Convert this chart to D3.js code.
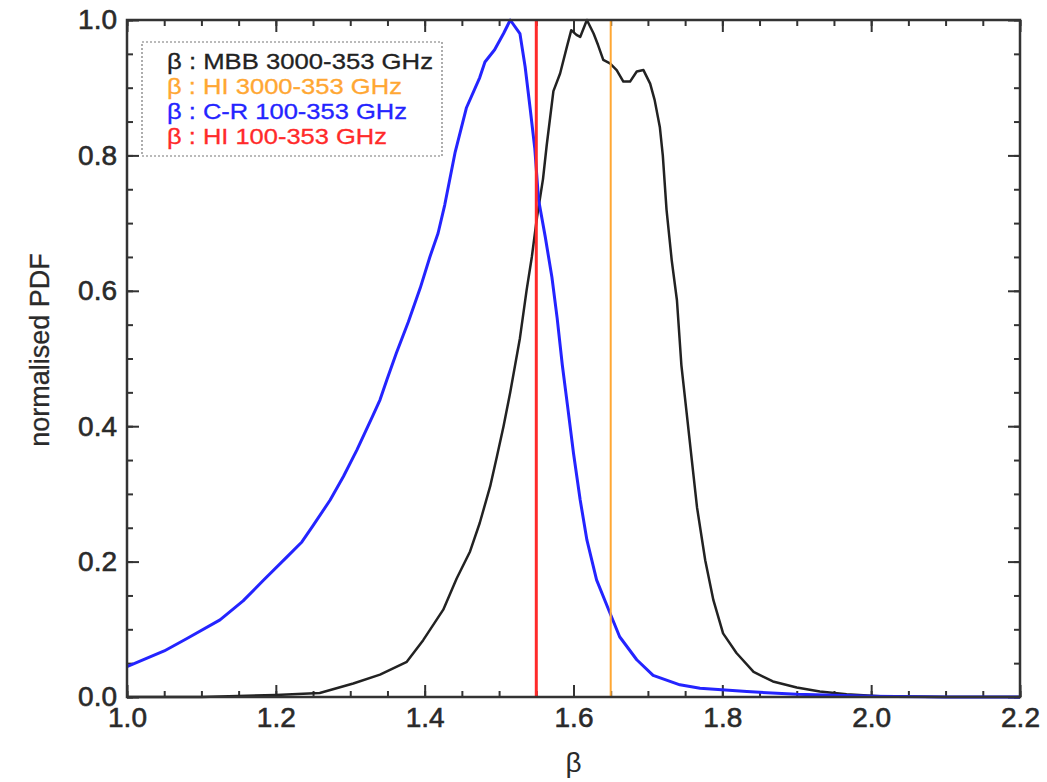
<!DOCTYPE html>
<html><head><meta charset="utf-8">
<script src="https://cdn.jsdelivr.net/npm/d3@7"></script>
<style>body{margin:0;background:#fff}</style>
</head><body>
<svg id="chart" width="1047" height="782"></svg>
<script>
// ---- data ----
const blueBeta = [1.00,1.05,1.08,1.125,1.156,1.183,1.215,1.235,1.25,1.273,1.291,1.309,1.331,1.34,1.349,1.362,1.378,1.394,1.407,1.418,1.427,1.441,1.456,1.474,1.481,1.494,1.506,1.515,1.528,1.535,1.542,1.548,1.553,1.562,1.571,1.578,1.585,1.592,1.600,1.609,1.618,1.631,1.649,1.662,1.685,1.707,1.743,1.770,1.833,1.90,2.00,2.10,2.20];
const blueVal  = [0.045,0.068,0.086,0.114,0.142,0.172,0.207,0.229,0.253,0.291,0.326,0.365,0.417,0.439,0.468,0.508,0.554,0.604,0.650,0.685,0.727,0.805,0.870,0.915,0.938,0.956,0.980,1.0,0.980,0.931,0.867,0.810,0.735,0.680,0.620,0.560,0.490,0.430,0.360,0.291,0.232,0.173,0.124,0.089,0.055,0.032,0.018,0.013,0.008,0.004,0.001,0.0,0.0];
const blackBeta = [1.0,1.1,1.2,1.259,1.304,1.34,1.376,1.398,1.425,1.443,1.461,1.474,1.488,1.497,1.506,1.515,1.528,1.537,1.544,1.551,1.559,1.564,1.573,1.582,1.591,1.597,1.604,1.609,1.618,1.627,1.633,1.640,1.649,1.658,1.667,1.676,1.685,1.694,1.703,1.709,1.716,1.720,1.725,1.732,1.739,1.745,1.752,1.759,1.766,1.777,1.788,1.801,1.819,1.842,1.868,1.900,1.931,1.967,2.012,2.1,2.2];
const blackVal  = [0.0,0.0,0.003,0.006,0.020,0.033,0.052,0.084,0.129,0.175,0.215,0.257,0.311,0.355,0.400,0.450,0.530,0.601,0.650,0.709,0.765,0.815,0.895,0.921,0.960,0.985,0.978,0.975,1.0,0.980,0.963,0.941,0.936,0.926,0.909,0.909,0.924,0.926,0.906,0.882,0.842,0.800,0.720,0.645,0.586,0.490,0.420,0.350,0.280,0.202,0.143,0.094,0.065,0.037,0.023,0.014,0.008,0.004,0.001,0.0,0.0];
const vlineBeta = [1.65, 1.55];          // HI 3000-353, HI 100-353
const vlineColors = ["#ffa733", "#ff2a2a"];
const legendLabels = ["β : MBB 3000-353 GHz","β : HI 3000-353 GHz","β : C-R 100-353 GHz","β : HI 100-353 GHz"];
const legendColors = ["#222222","#ffa733","#2424ff","#ff2a2a"];
const xTickLabels = ["1.0","1.2","1.4","1.6","1.8","2.0","2.2"];
const yTickLabels = ["0.0","0.2","0.4","0.6","0.8","1.0"];

// ---- layout ----
const svg = d3.select("#chart");
const L = 127, R = 1020, T = 20, B = 697;
const x = d3.scaleLinear().domain([1.0, 2.2]).range([L, R]);
const y = d3.scaleLinear().domain([0, 1.0]).range([B, T]);
const font = "'Liberation Sans', Arial, Helvetica, sans-serif";
const axisColor = "#333";

const xMajor = xTickLabels.map(Number);
const xMinor = d3.range(1.0, 2.2001, 0.05);
const yMajor = yTickLabels.map(Number);
const yMinor = d3.range(0, 1.0001, 0.05);

function drawAxis(axisGen, transform, values, size) {
  const g = svg.append("g").attr("transform", transform)
    .call(axisGen.tickValues(values).tickSize(size).tickFormat(""));
  g.select(".domain").remove();
  g.selectAll(".tick line").attr("stroke", axisColor).attr("stroke-width", 2);
  return g;
}
drawAxis(d3.axisTop(x), `translate(0,${B})`, xMinor, 6);
drawAxis(d3.axisTop(x), `translate(0,${B})`, xMajor, 12);
drawAxis(d3.axisBottom(x), `translate(0,${T})`, xMinor, 6);
drawAxis(d3.axisBottom(x), `translate(0,${T})`, xMajor, 12);
drawAxis(d3.axisRight(y), `translate(${L},0)`, yMinor, 6);
drawAxis(d3.axisRight(y), `translate(${L},0)`, yMajor, 12);
drawAxis(d3.axisLeft(y), `translate(${R},0)`, yMinor, 6);
drawAxis(d3.axisLeft(y), `translate(${R},0)`, yMajor, 12);

// tick labels
const xl = svg.append("g").attr("transform", `translate(0,${B})`)
  .call(d3.axisBottom(x).tickValues(xMajor).tickSize(0).tickPadding(10).tickFormat((d,i)=>xTickLabels[i]));
xl.select(".domain").remove();
xl.selectAll("text").attr("font-family", font).attr("font-size", 28).attr("fill", "#2a2a2a")
  .attr("stroke", "#2a2a2a").attr("stroke-width", 0.6);
const yl = svg.append("g").attr("transform", `translate(${L},0)`)
  .call(d3.axisLeft(y).tickValues(yMajor).tickSize(0).tickPadding(10).tickFormat((d,i)=>yTickLabels[i]));
yl.select(".domain").remove();
yl.selectAll("text").attr("font-family", font).attr("font-size", 28).attr("fill", "#2a2a2a")
  .attr("stroke", "#2a2a2a").attr("stroke-width", 0.6);

// axis titles
svg.append("text").attr("x", (L+R)/2).attr("y", 772).attr("text-anchor", "middle")
  .attr("font-family", font).attr("font-size", 28).attr("fill", "#2a2a2a").text("β");
svg.append("text").attr("transform", `translate(49,350) rotate(-90)`).attr("text-anchor", "middle")
  .attr("font-family", font).attr("font-size", 27).attr("fill", "#2a2a2a")
  .attr("stroke", "#2a2a2a").attr("stroke-width", 0.3).text("normalised PDF");

// curves
const line = d3.line().x(d => x(d[0])).y(d => y(d[1]));
svg.append("path").datum(blackBeta.map((b,i)=>[b, blackVal[i]]))
  .attr("d", line).attr("fill", "none").attr("stroke", "#222").attr("stroke-width", 2.5)
  .attr("stroke-linejoin", "round");
svg.append("path").datum(blueBeta.map((b,i)=>[b, blueVal[i]]))
  .attr("d", line).attr("fill", "none").attr("stroke", "#2424ff").attr("stroke-width", 3)
  .attr("stroke-linejoin", "round");

// vertical lines
svg.selectAll("line.v").data(vlineBeta).enter().append("line").attr("class", "v")
  .attr("x1", d => x(d)).attr("x2", d => x(d)).attr("y1", y(0)).attr("y2", y(1))
  .attr("stroke", (d,i) => vlineColors[i]).attr("stroke-width", (d,i) => i === 1 ? 3 : 2);

// frame
svg.append("rect").attr("x", L).attr("y", T).attr("width", R-L).attr("height", B-T)
  .attr("fill", "none").attr("stroke", axisColor).attr("stroke-width", 2.5);

// legend
const legendWidths = [266, 235, 240, 220];
const lg = svg.append("g");
lg.append("rect").attr("x", 142).attr("y", 42).attr("width", 300).attr("height", 114)
  .attr("fill", "#fff").attr("stroke", "#777").attr("stroke-width", 1.2).attr("stroke-dasharray", "2,2");
lg.selectAll("text").data(legendLabels).enter().append("text")
  .attr("x", 167).attr("y", (d,i) => 69 + i*25)
  .attr("font-family", font).attr("font-size", 22).attr("fill", (d,i) => legendColors[i])
  .attr("stroke", (d,i) => legendColors[i]).attr("stroke-width", 0.3)
  .attr("textLength", (d,i) => legendWidths[i]).attr("lengthAdjust", "spacingAndGlyphs")
  .text(d => d);
</script>
</body></html>
